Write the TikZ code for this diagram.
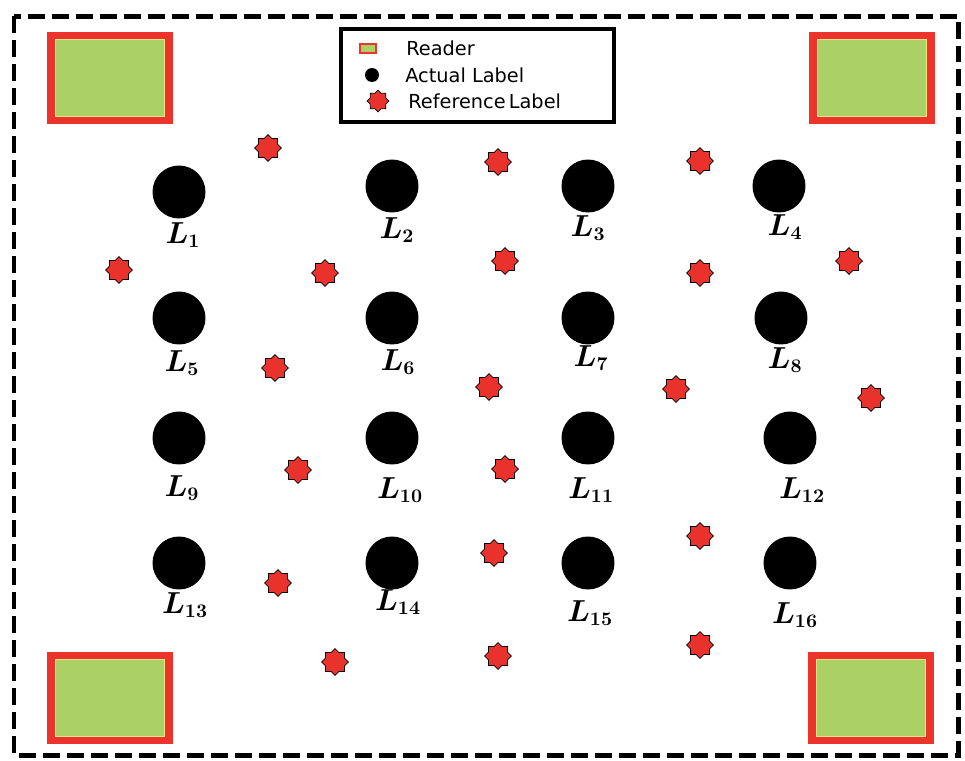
\documentclass[tikz,border=0pt]{standalone}
\usepackage{amsmath,bm}
\usepackage{fontspec}
\newfontfamily\legendfont{DejaVu Sans}
\usepackage{xcolor}
\usetikzlibrary{positioning,shapes.geometric}

\definecolor{readerred}{RGB}{236,52,44}
\definecolor{readergreen}{RGB}{171,208,102}
\definecolor{readerrim}{RGB}{238,228,130}
\definecolor{refred}{RGB}{234,50,45}

\tikzset{
  reader/.style={draw=readerred, fill=readergreen, line width=0.16cm,
    minimum width=2.36cm, minimum height=1.7cm, inner sep=0pt},
  actual/.style={circle, fill=black, minimum size=1.06cm, inner sep=0pt},
  reflabel/.style={star, star points=8, star point ratio=1.32, fill=refred,
    draw=black, line width=0.4pt, minimum size=0.54cm, inner sep=0pt},
  tagname/.style={font=\fontsize{16}{19}\selectfont\boldmath, inner sep=0pt},
  legendtext/.style={font=\legendfont\fontsize{11}{13}\selectfont,
    anchor=west, inner sep=0pt}
}

\begin{document}
\begin{tikzpicture}[x=0.02cm, y=-0.02cm]
    % Page size in pixels of the reference
    \useasboundingbox (0,0) rectangle (965,761);

    % Dashed boundary of the area
    \coordinate (NW) at (14,16);
    \coordinate (SE) at (958,755);
    \draw[line width=0.1cm, dash pattern=on 0.34cm off 0.14cm] (NW) rectangle (SE);

    % Readers in the four corners
    \node[reader] (R1) at (110,78) {};
    \node[reader] (R2) at (872,78) {};
    \node[reader] (R3) at (110,698) {};
    \node[reader] (R4) at (871,698) {};
    % thin pale rim just inside the red frame (anchors sit on the outer edge)
    \foreach \r in {R1,R2,R3,R4}
        \draw[readerrim, line width=0.5pt]
            ([shift={(0.165cm,0.165cm)}]\r.south west) rectangle ([shift={(-0.165cm,-0.165cm)}]\r.north east);

    % Legend
    \node[draw, line width=0.08cm, minimum width=5.46cm, minimum height=1.86cm,
          inner sep=0pt] (legend) at (477.5,75.5) {};
    \node[draw=readerred, fill=readergreen, line width=0.04cm, minimum width=0.32cm,
          minimum height=0.18cm, inner sep=0pt] (legR) at (368,48) {};
    \node[circle, fill=black, minimum size=0.28cm, inner sep=0pt] (legA) at (372,75) {};
    \node[reflabel, minimum size=0.44cm] (legS) at (378,101) {};
    \node[legendtext] (legRt) at (406,48) {Reader};
    \node[legendtext] (legAt) at (405,75) {Actual Label};
    \node[legendtext] (legSt) at (408,101) {Reference\,Label};

    % Actual labels: x / y / name x / name y
    \foreach \i/\x/\y/\lx/\ly in {
        1/179/192/183/235, 2/392/186/397/230, 3/588/186/588/228, 4/779/186/785/227,
        5/179/318/182/363, 6/392/318/398/362, 7/588/318/591/358, 8/781/318/785/360,
        9/179/438/182/488, 10/392/438/400/490, 11/588/438/591/490, 12/790/438/802/490,
        13/179/563/185/605, 14/392/563/398/602, 15/588/563/590/613, 16/790/563/795/615}
    {
        \node[actual] (L\i) at (\x,\y) {};
        \node[tagname] (t\i) at (\lx,\ly) {$L_{\i}$};
    }

    % Reference labels
    \foreach \j/\x/\y in {
        1/268/148, 2/498/162, 3/700/161, 4/119/270, 5/325/273,
        6/505/261, 7/700/273, 8/849/261, 9/275/368, 10/489/387,
        11/676/389, 12/871/398, 13/298/470, 14/505/469, 15/700/536,
        16/494/553, 17/278/583, 18/335/662, 19/498/656, 20/700/645}
    {
        \node[reflabel] (s\j) at (\x,\y) {};
    }
\end{tikzpicture}
\end{document}
